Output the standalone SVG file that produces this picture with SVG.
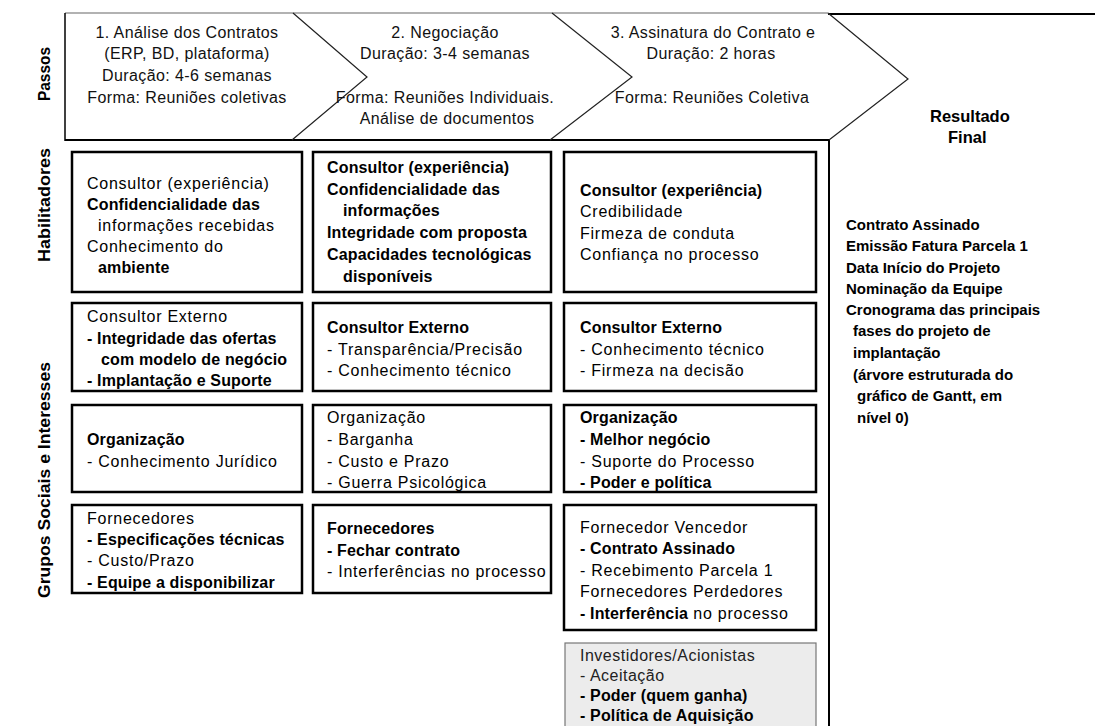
<svg xmlns="http://www.w3.org/2000/svg" width="1095" height="726" viewBox="0 0 1095 726">
<style>
text{font-family:"Liberation Sans",Arial,sans-serif;fill:#000}
.t{font-size:16px;letter-spacing:.75px}
.b{font-weight:bold;letter-spacing:.15px}
.h{font-size:16px;letter-spacing:.4px;fill:#111;text-anchor:middle}
.lt{font-size:16px;letter-spacing:.5px;fill:#222}
.lab{font-size:17px;font-weight:bold;text-anchor:middle}
.res{font-size:15px;font-weight:bold}
.big{font-size:16.5px;font-weight:bold}
.box{fill:#fff;stroke:#000;stroke-width:2.5}
.gbox{fill:#ececec;stroke:#777;stroke-width:1.2}
.zig{fill:none;stroke:#222;stroke-width:1.2;stroke-linejoin:miter}
</style>
<rect width="1095" height="726" fill="#fff"/>

<g id="labels">
<text class="lab" transform="translate(50,74) rotate(-90)" textLength="54" lengthAdjust="spacingAndGlyphs">Passos</text>
<text class="lab" transform="translate(50,205) rotate(-90)" textLength="114" lengthAdjust="spacingAndGlyphs">Habilitadores</text>
<text class="lab" transform="translate(50,480) rotate(-90)" textLength="236" lengthAdjust="spacingAndGlyphs">Grupos Sociais e Interesses</text>
</g>

<g id="connectors">
<line x1="65" y1="13" x2="828" y2="13" stroke="#999" stroke-width="1.5"/>
<line x1="828" y1="14" x2="1095" y2="14" stroke="#000" stroke-width="2"/>
<line x1="65" y1="13" x2="65" y2="141" stroke="#000" stroke-width="1.5"/>
<line x1="65" y1="140" x2="830" y2="140" stroke="#000" stroke-width="2"/>
<line x1="829" y1="139" x2="829" y2="726" stroke="#000" stroke-width="2"/>
<polyline class="zig" points="293,13 367,77 292,140"/>
<polyline class="zig" points="552,13 632,77 550,140"/>
<polyline class="zig" points="828,13 908,79 829,140"/>
</g>

<g id="step1">
<text class="h" x="187" y="38">1. Análise dos Contratos</text>
<text class="h" x="187" y="59">(ERP, BD, plataforma)</text>
<text class="h" x="187" y="81">Duração: 4-6 semanas</text>
<text class="h" x="187" y="103">Forma: Reuniões coletivas</text>
</g>
<g id="step2">
<text class="h" x="445" y="38">2. Negociação</text>
<text class="h" x="445" y="59">Duração: 3-4 semanas</text>
<text class="h" x="445" y="103">Forma: Reuniões Individuais.</text>
<text class="h" x="447" y="124">Análise de documentos</text>
</g>
<g id="step3">
<text class="h" x="713" y="38">3. Assinatura do Contrato e</text>
<text class="h" x="711" y="59">Duração: 2 horas</text>
<text class="h" x="712" y="103">Forma: Reuniões Coletiva</text>
</g>

<g id="hab1">
<rect class="box" x="72" y="152" width="230" height="140"/>
<text class="t" x="87" y="189">Consultor (experiência)</text>
<text class="t b" x="87" y="210">Confidencialidade das</text>
<text class="t" x="98" y="231">informações recebidas</text>
<text class="t" x="87" y="252">Conhecimento do</text>
<text class="t b" x="98" y="273">ambiente</text>
</g>
<g id="hab2">
<rect class="box" x="313" y="152" width="238" height="140"/>
<text class="t b" x="327" y="173">Consultor (experiência)</text>
<text class="t b" x="327" y="195">Confidencialidade das</text>
<text class="t b" x="343" y="216">informações</text>
<text class="t b" x="327" y="238">Integridade com proposta</text>
<text class="t b" x="327" y="260">Capacidades tecnológicas</text>
<text class="t b" x="343" y="282">disponíveis</text>
</g>
<g id="hab3">
<rect class="box" x="564" y="152" width="252" height="140"/>
<text class="t b" x="580" y="196">Consultor (experiência)</text>
<text class="t" x="580" y="217">Credibilidade</text>
<text class="t" x="580" y="239">Firmeza de conduta</text>
<text class="t" x="580" y="260">Confiança no processo</text>
</g>

<g id="cons1">
<rect class="box" x="72" y="303" width="230" height="88"/>
<text class="t" x="87" y="322">Consultor Externo</text>
<text class="t b" x="87" y="344">- Integridade das ofertas</text>
<text class="t b" x="101" y="365">com modelo de negócio</text>
<text class="t b" x="87" y="386">- Implantação e Suporte</text>
</g>
<g id="cons2">
<rect class="box" x="313" y="303" width="238" height="88"/>
<text class="t b" x="327" y="333">Consultor Externo</text>
<text class="t" x="327" y="355">- Transparência/Precisão</text>
<text class="t" x="327" y="376">- Conhecimento técnico</text>
</g>
<g id="cons3">
<rect class="box" x="564" y="303" width="252" height="88"/>
<text class="t b" x="580" y="333">Consultor Externo</text>
<text class="t" x="580" y="355">- Conhecimento técnico</text>
<text class="t" x="580" y="376">- Firmeza na decisão</text>
</g>

<g id="org1">
<rect class="box" x="72" y="405" width="230" height="87"/>
<text class="t b" x="87" y="445">Organização</text>
<text class="t" x="87" y="467">- Conhecimento Jurídico</text>
</g>
<g id="org2">
<rect class="box" x="313" y="405" width="238" height="87"/>
<text class="t" x="327" y="423">Organização</text>
<text class="t" x="327" y="445">- Barganha</text>
<text class="t" x="327" y="467">- Custo e Prazo</text>
<text class="t" x="327" y="488">- Guerra Psicológica</text>
</g>
<g id="org3">
<rect class="box" x="564" y="405" width="252" height="87"/>
<text class="t b" x="580" y="423">Organização</text>
<text class="t b" x="580" y="445">- Melhor negócio</text>
<text class="t" x="580" y="467">- Suporte do Processo</text>
<text class="t b" x="580" y="488">- Poder e política</text>
</g>

<g id="forn1">
<rect class="box" x="72" y="505" width="230" height="88"/>
<text class="t" x="87" y="524">Fornecedores</text>
<text class="t b" x="87" y="545">- Especificações técnicas</text>
<text class="t" x="87" y="566">- Custo/Prazo</text>
<text class="t b" x="87" y="588">- Equipe a disponibilizar</text>
</g>
<g id="forn2">
<rect class="box" x="313" y="505" width="238" height="88"/>
<text class="t b" x="327" y="534">Fornecedores</text>
<text class="t b" x="327" y="556">- Fechar contrato</text>
<text class="t" x="327" y="577">- Interferências no processo</text>
</g>
<g id="forn3">
<rect class="box" x="564" y="505" width="252" height="125"/>
<text class="t" x="580" y="533">Fornecedor Vencedor</text>
<text class="t b" x="580" y="554">- Contrato Assinado</text>
<text class="t" x="580" y="576">- Recebimento Parcela 1</text>
<text class="t" x="580" y="597">Fornecedores Perdedores</text>
<text class="t" x="580" y="619"><tspan class="b">- Interferência</tspan> no processo</text>
</g>

<g id="investidores">
<rect class="gbox" x="565" y="643" width="251" height="100"/>
<text class="lt" x="580" y="661">Investidores/Acionistas</text>
<text class="lt" x="580" y="681">- Aceitação</text>
<text class="t b" x="580" y="701">- Poder (quem ganha)</text>
<text class="t b" x="580" y="721">- Política de Aquisição</text>
</g>

<g id="resultado">
<text class="big" x="930" y="122">Resultado</text>
<text class="big" x="948" y="143">Final</text>
<text class="res" x="846" y="230">Contrato Assinado</text>
<text class="res" x="846" y="251">Emissão Fatura Parcela 1</text>
<text class="res" x="846" y="273">Data Início do Projeto</text>
<text class="res" x="846" y="294">Nominação da Equipe</text>
<text class="res" x="846" y="315">Cronograma das principais</text>
<text class="res" x="853" y="336">fases do projeto de</text>
<text class="res" x="853" y="358">implantação</text>
<text class="res" x="853" y="380">(árvore estruturada do</text>
<text class="res" x="857" y="401">gráfico de Gantt, em</text>
<text class="res" x="857" y="423">nível 0)</text>
</g>
</svg>
